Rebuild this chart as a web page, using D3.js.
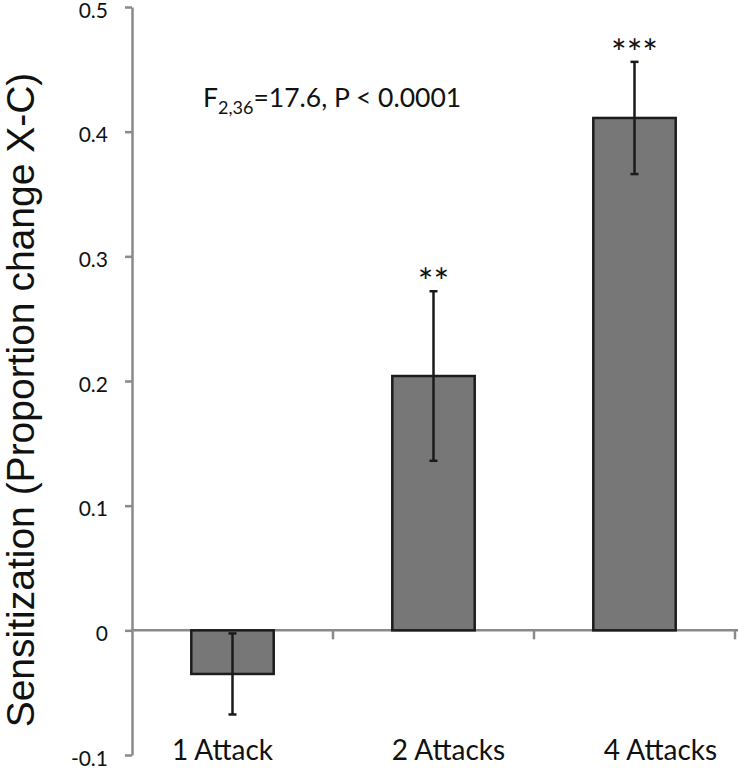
<!DOCTYPE html>
<html>
<head>
<meta charset="utf-8">
<script src="https://cdn.jsdelivr.net/npm/d3@7"></script>
<style>
  html, body { margin: 0; padding: 0; background: #fff; }
  svg { display: block; }
</style>
</head>
<body>
<svg id="chart" width="738" height="769"></svg>
<script>
// ---- data ----
const categories = ["1 Attack", "2 Attacks", "4 Attacks"];
const means = [-0.035, 0.204, 0.411];
const errors = [0.0325, 0.068, 0.045];
const stars = ["", "**", "***"];
const yTicks = [-0.1, 0, 0.1, 0.2, 0.3, 0.4, 0.5];
const yTickLabels = ["-0.1", "0", "0.1", "0.2", "0.3", "0.4", "0.5"];
const yTitle = "Sensitization (Proportion change X-C)";

// ---- layout ----
const svg = d3.select("#chart");
const axisColor = "#8a8a8a";
const labelFont = "Lato, 'Open Sans', sans-serif";

const y = d3.scaleLinear().domain([-0.1, 0.5]).range([755, 7]);
const x = d3.scaleBand().domain(categories).range([132, 735])
  .paddingInner(0.59).paddingOuter(0.295);

// y axis
const yAxis = d3.axisLeft(y).tickValues(yTicks)
  .tickFormat((d, i) => yTickLabels[i]).tickSize(7).tickSizeOuter(0).tickPadding(17);
const gy = svg.append("g").attr("transform", "translate(132,0)").call(yAxis);
gy.select(".domain").attr("stroke", axisColor).attr("stroke-width", 2.5);
gy.selectAll(".tick line").attr("stroke", axisColor).attr("stroke-width", 2.5);
gy.selectAll(".tick text").attr("fill", "#111").style("font-family", labelFont)
  .style("font-size", "21px").attr("dy", "10px");

// zero line (category axis)
const x0 = x.range()[0];
svg.append("line").attr("x1", x0).attr("x2", 738).attr("y1", y(0)).attr("y2", y(0))
  .attr("stroke", axisColor).attr("stroke-width", 2.5);
// category divider ticks
svg.selectAll("line.ctick").data(d3.range(1, categories.length + 1)).join("line")
  .attr("class", "ctick")
  .attr("x1", i => x0 + i * x.step()).attr("x2", i => x0 + i * x.step())
  .attr("y1", y(0)).attr("y2", y(0) + 9)
  .attr("stroke", axisColor).attr("stroke-width", 2.5);

// bars
svg.selectAll("rect.bar").data(categories).join("rect")
  .attr("class", "bar")
  .attr("x", d => x(d))
  .attr("width", x.bandwidth())
  .attr("y", (d, i) => y(Math.max(0, means[i])))
  .attr("height", (d, i) => Math.abs(y(means[i]) - y(0)))
  .attr("fill", "#777777").attr("stroke", "#1c1c1c").attr("stroke-width", 2.5);

// error bars
const eb = svg.selectAll("g.err").data(categories).join("g").attr("class", "err");
eb.append("line")
  .attr("x1", d => x(d) + x.bandwidth() / 2).attr("x2", d => x(d) + x.bandwidth() / 2)
  .attr("y1", (d, i) => y(means[i] + errors[i])).attr("y2", (d, i) => y(means[i] - errors[i]))
  .attr("stroke", "#1a1a1a").attr("stroke-width", 2.5);
[1, -1].forEach(s => {
  eb.append("line")
    .attr("x1", d => x(d) + x.bandwidth() / 2 - 4).attr("x2", d => x(d) + x.bandwidth() / 2 + 4)
    .attr("y1", (d, i) => y(means[i] + s * errors[i])).attr("y2", (d, i) => y(means[i] + s * errors[i]))
    .attr("stroke", "#1a1a1a").attr("stroke-width", 2.5);
});

// significance stars
svg.selectAll("text.star").data(categories).join("text")
  .attr("class", "star")
  .attr("x", d => x(d) + x.bandwidth() / 2)
  .attr("y", (d, i) => y(means[i] + errors[i]) + 4)
  .attr("text-anchor", "middle")
  .style("font-family", labelFont).style("font-size", "37px").attr("fill", "#111")
  .text((d, i) => stars[i]);

// category labels
const labelShift = [-10, 15, 26];
svg.selectAll("text.cat").data(categories).join("text")
  .attr("class", "cat")
  .attr("x", (d, i) => x(d) + x.bandwidth() / 2 + labelShift[i])
  .attr("y", 760)
  .attr("text-anchor", "middle")
  .style("font-family", labelFont).style("font-size", "28px").attr("fill", "#111")
  .text(d => d);

// annotation
const ann = svg.append("text").attr("x", 203).attr("y", 107)
  .style("font-family", labelFont).style("font-size", "26.5px").attr("fill", "#111");
ann.append("tspan").text("F");
ann.append("tspan").attr("dy", 7).style("font-size", "18px").text("2,36");
ann.append("tspan").attr("dy", -7).text("=17.6, P < 0.0001");

// y title
svg.append("text")
  .attr("transform", "translate(34,400) rotate(-90)")
  .attr("text-anchor", "middle")
  .style("font-family", "'Liberation Sans', Arial, sans-serif").style("font-size", "39px")
  .attr("fill", "#111")
  .text(yTitle);
</script>
</body>
</html>
